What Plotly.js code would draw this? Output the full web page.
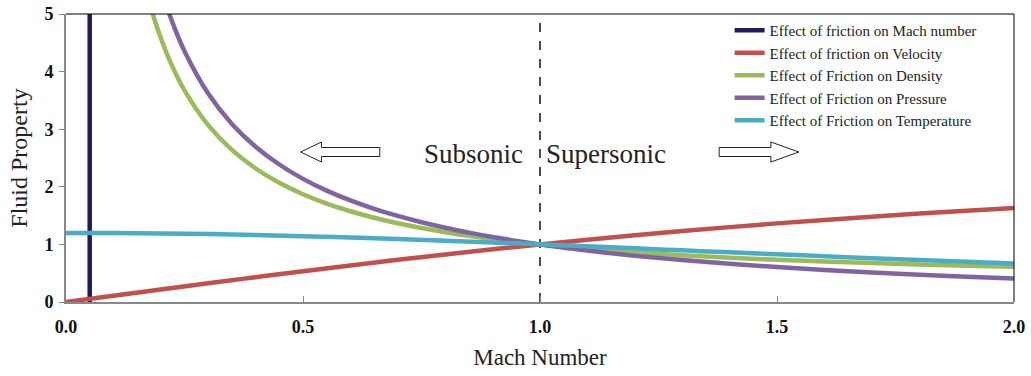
<!DOCTYPE html>
<html>
<head>
<meta charset="utf-8">
<script src="https://cdn.plot.ly/plotly-3.0.1.min.js"></script>
<style>
  html, body { margin: 0; padding: 0; background: #fff; }
  #fannoChart { width: 1031px; height: 376px; }
</style>
</head>
<body>
<div id="fannoChart"></div>
<script>
// Fanno flow: effect of friction on fluid properties vs Mach number

const machLineX = [0.05, 0.05];
const machLineY = [0, 5];

const sonicX = [1, 1];
const sonicY = [0, 5];

// velocity and temperature
const machA = [0, 0.1, 0.2, 0.3, 0.4, 0.5, 0.6, 0.7, 0.8, 0.9, 1.0,
  1.1, 1.2, 1.3, 1.4, 1.5, 1.6, 1.7, 1.8, 1.9, 2.0];
const velocity = [0, 0.109, 0.218, 0.326, 0.431, 0.535, 0.635, 0.732, 0.825, 0.915, 1.0,
  1.081, 1.158, 1.231, 1.300, 1.365, 1.425, 1.482, 1.536, 1.586, 1.633];
const temperature = [1.2, 1.198, 1.190, 1.179, 1.163, 1.143, 1.119, 1.093, 1.064, 1.033, 1.0,
  0.966, 0.932, 0.897, 0.862, 0.828, 0.794, 0.760, 0.728, 0.697, 0.667];

// density
const machD = [0.17, 0.18, 0.19, 0.2, 0.22, 0.25, 0.3, 0.35, 0.4, 0.45, 0.5, 0.55, 0.6,
  0.65, 0.7, 0.75, 0.8, 0.85, 0.9, 0.95, 1.0, 1.1, 1.2, 1.3, 1.4, 1.5, 1.6, 1.7, 1.8, 1.9, 2.0];
const density = [5.385, 5.088, 4.822, 4.583, 4.170, 3.674, 3.070, 2.640, 2.318, 2.069, 1.871, 1.709, 1.575,
  1.463, 1.367, 1.284, 1.212, 1.149, 1.093, 1.044, 1.0, 0.925, 0.863, 0.812, 0.769, 0.733, 0.702, 0.675, 0.651, 0.630, 0.612];

// pressure
const machP = [0.19, 0.2, 0.21, 0.22, 0.23, 0.25, 0.3, 0.35, 0.4, 0.45, 0.5, 0.55, 0.6,
  0.65, 0.7, 0.75, 0.8, 0.85, 0.9, 0.95, 1.0, 1.1, 1.2, 1.3, 1.4, 1.5, 1.6, 1.7, 1.8, 1.9, 2.0];
const pressure = [5.745, 5.456, 5.194, 4.955, 4.738, 4.355, 3.619, 3.092, 2.696, 2.387, 2.138, 1.934, 1.763,
  1.618, 1.494, 1.385, 1.289, 1.205, 1.129, 1.061, 1.0, 0.894, 0.804, 0.728, 0.663, 0.606, 0.557, 0.513, 0.474, 0.439, 0.408];

const serif = "Liberation Serif, Times New Roman, serif";

function line(x, y, name, color) {
  return {
    x: x, y: y, name: name, type: "scatter", mode: "lines",
    line: { color: color, width: 4.5, shape: "spline" },
  };
}

const traces = [
  {
    x: sonicX, y: sonicY, type: "scatter", mode: "lines", showlegend: false,
    hoverinfo: "skip", line: { color: "#111", width: 1.5, dash: "dash" },
  },
  line(machLineX, machLineY, "Effect of friction on Mach number", "#1d1b5b"),
  line(machA, velocity, "Effect of friction on Velocity", "#c0504d"),
  line(machD, density, "Effect of Friction on Density", "#9bbb59"),
  line(machP, pressure, "Effect of Friction on Pressure", "#8064a2"),
  line(machA, temperature, "Effect of Friction on Temperature", "#4bacc6"),
];

// hollow block arrows
const arrowLeft = "M0.495,2.604 L0.539,2.778 L0.539,2.682 L0.662,2.682 L0.662,2.526 L0.539,2.526 L0.539,2.430 Z";
const arrowRight = "M1.546,2.604 L1.487,2.778 L1.487,2.682 L1.378,2.682 L1.378,2.526 L1.487,2.526 L1.487,2.430 Z";

const layout = {
  width: 1031,
  height: 376,
  margin: { l: 66, r: 17, t: 14, b: 74 },
  paper_bgcolor: "#fff",
  plot_bgcolor: "#fff",
  font: { family: serif, color: "#222" },
  showlegend: true,
  legend: {
    x: 0.70, y: 1.0, xanchor: "left", yanchor: "top",
    bgcolor: "rgba(255,255,255,0)",
    font: { family: serif, size: 15, color: "#222" },
    tracegroupgap: 0,
  },
  xaxis: {
    range: [0, 2],
    dtick: 0.5,
    tickformat: ".1f",
    ticks: "inside",
    ticklen: 6,
    tickcolor: "#888",
    showline: true,
    linecolor: "#888",
    linewidth: 2,
    showgrid: false,
    zeroline: false,
    tickfont: { family: serif, size: 18, color: "#111", weight: "bold" },
    ticklabelstandoff: 7,
    title: { text: "Mach Number", font: { family: serif, size: 23, color: "#222" }, standoff: 13 },
  },
  yaxis: {
    range: [0, 5],
    dtick: 1,
    ticks: "outside",
    ticklen: 5,
    tickcolor: "#888",
    showline: true,
    linecolor: "#888",
    linewidth: 2,
    showgrid: false,
    zeroline: false,
    tickfont: { family: serif, size: 18, color: "#111", weight: "bold" },
    ticklabelstandoff: 2,
    title: { text: "Fluid Property", font: { family: serif, size: 24, color: "#222" }, standoff: 10 },
  },
  shapes: [
    { type: "line", xref: "paper", yref: "paper", x0: 0, x1: 1, y0: 1, y1: 1, line: { color: "#000", width: 1 } },
    { type: "line", xref: "paper", yref: "paper", x0: 1, x1: 1, y0: 0, y1: 1, line: { color: "#000", width: 1 } },
    { type: "path", xref: "x", yref: "y", path: arrowLeft, fillcolor: "#fff", line: { color: "#222", width: 1 } },
    { type: "path", xref: "x", yref: "y", path: arrowRight, fillcolor: "#fff", line: { color: "#222", width: 1 } },
  ],
  annotations: [
    { x: 1, y: 2.57, xref: "x", yref: "y", text: "Subsonic", showarrow: false,
      xanchor: "right", xshift: -15, font: { family: serif, size: 27, color: "#222" } },
    { x: 1, y: 2.57, xref: "x", yref: "y", text: "Supersonic", showarrow: false,
      xanchor: "left", xshift: 4, font: { family: serif, size: 27, color: "#222" } },
  ],
};

Plotly.newPlot("fannoChart", traces, layout, { displayModeBar: false, staticPlot: true });
</script>
</body>
</html>
